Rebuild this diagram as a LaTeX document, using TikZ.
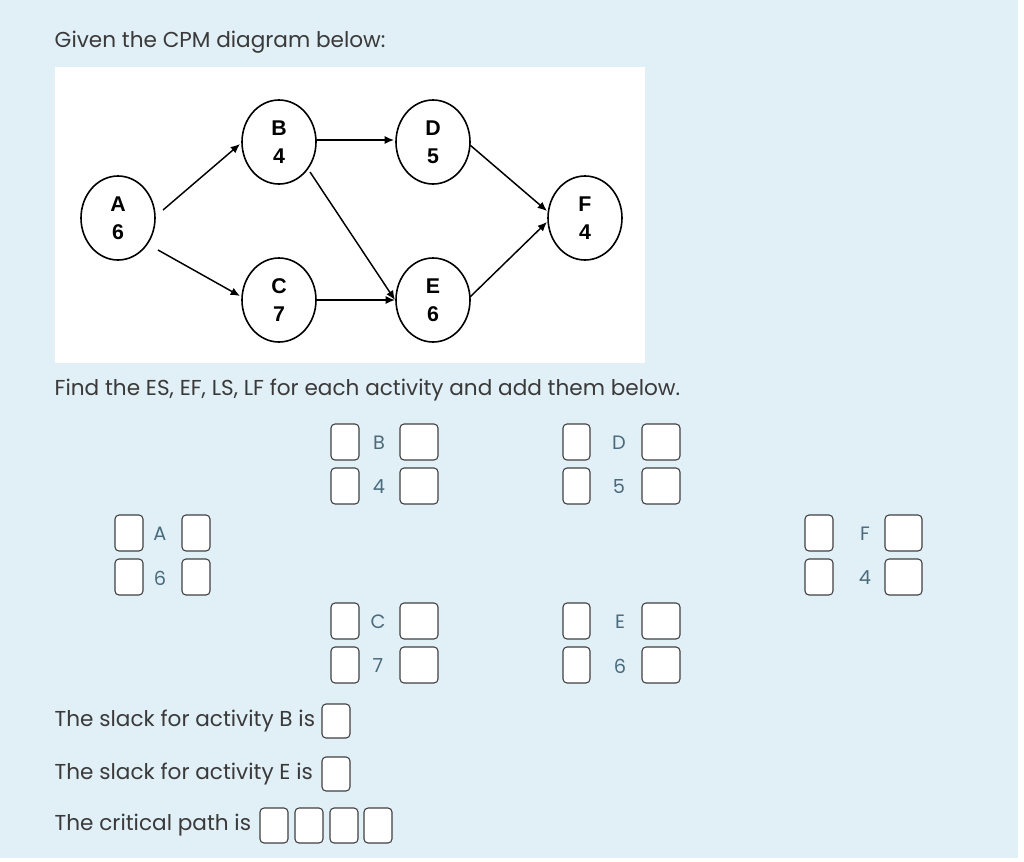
\documentclass[tikz,border=0pt]{standalone}
\usepackage{fontspec}
\setmainfont{Poppins}
\newfontfamily\arialf{Liberation Sans}
\usetikzlibrary{arrows.meta}
\definecolor{bgc}{HTML}{E1EFF6}
\definecolor{lblc}{HTML}{4A6B7C}
\definecolor{txtc}{HTML}{3A3A3A}
\begin{document}
\begin{tikzpicture}[x=0.75pt,y=-0.75pt,
  arr/.style={line width=1.1pt,-{Latex[length=7pt,width=6pt]}},
  bx/.style={draw=black!75,line width=0.8pt,fill=white,rounded corners=3pt},
  lbl/.style={text=lblc,font=\fontsize{14.5}{14.5}\selectfont},
  qt/.style={text=txtc,font=\fontsize{16.2}{17}\selectfont,anchor=west}]
\useasboundingbox (0,0) rectangle (1024,861);
\fill[white] (0,0) rectangle (1024,861);
\fill[bgc] (0,0) rectangle (1018,858);
\fill[white] (55,67) rectangle (645,363);
\node[qt] (t1) at (50,42) {Given the CPM diagram below:};
% network
\foreach \n/\x/\y/\a/\d in {A/118/218/A/6,B/279/142/B/4,D/433/142/D/5,C/279/300/C/7,E/433/300/E/6,F/585/218/F/4}{
  \draw[line width=1.2pt,fill=white] (\x,\y) ellipse [x radius=37, y radius=42];
  \node[align=center,font=\arialf\bfseries\fontsize{16}{21}\selectfont] (n\n) at (\x,\y) {\a\\\d};
}
\coordinate (As) at (163,210); \coordinate (Bw) at (240,144);
\coordinate (Ad) at (158,250); \coordinate (Cw) at (240,296);
\coordinate (Be) at (316,140); \coordinate (Dw) at (394,140);
\coordinate (Bs) at (310,172); \coordinate (Ew) at (395,300);
\coordinate (Ce) at (316,300); \coordinate (Ew2) at (395,300);
\coordinate (De) at (470,145); \coordinate (Fn) at (547,211);
\coordinate (Ee) at (470,297); \coordinate (Fs) at (547,222);
\draw[arr] (As) -- (Bw); \draw[arr] (Ad) -- (Cw); \draw[arr] (Be) -- (Dw);
\draw[arr] (Bs) -- (Ew); \draw[arr] (Ce) -- (Ew2); \draw[arr] (De) -- (Fn); \draw[arr] (Ee) -- (Fs);
\node[qt] (t2) at (50,390) {Find the ES, EF, LS, LF for each activity and add them below.};
\foreach \a/\d/\la/\lb/\lx/\ra/\rb/\yt in {B/4/331/359/379/400/438/424,D/5/563/590/619/642/680/424,A/6/115/143/160/182/210/515,F/4/805/833/865/885/922/515,C/7/331/359/378/400/438/603,E/6/563/590/620/642/680/603}{
  \pgfmathsetmacro{\yb}{\yt+36}\pgfmathsetmacro{\yc}{\yt+44}\pgfmathsetmacro{\yd}{\yt+80}
  \draw[bx] (\la,\yt) rectangle (\lb,\yb);
  \draw[bx] (\ra,\yt) rectangle (\rb,\yb);
  \draw[bx] (\la,\yc) rectangle (\lb,\yd);
  \draw[bx] (\ra,\yc) rectangle (\rb,\yd);
  \node[lbl] at (\lx,\yt+19) {\a};
  \node[lbl] at (\lx,\yt+63) {\d};
}
\node[qt] (s1) at (50,721) {The slack for activity B is};
\draw[bx] (322,704) rectangle (350,738);
\node[qt] (s2) at (50,774) {The slack for activity E is};
\draw[bx] (322,757) rectangle (350,791);
\node[qt] (s3) at (50,825) {The critical path is};
\foreach \x in {260,295,330,364}{\draw[bx] (\x,808) rectangle (\x+28,843);}
\end{tikzpicture}
\end{document}
